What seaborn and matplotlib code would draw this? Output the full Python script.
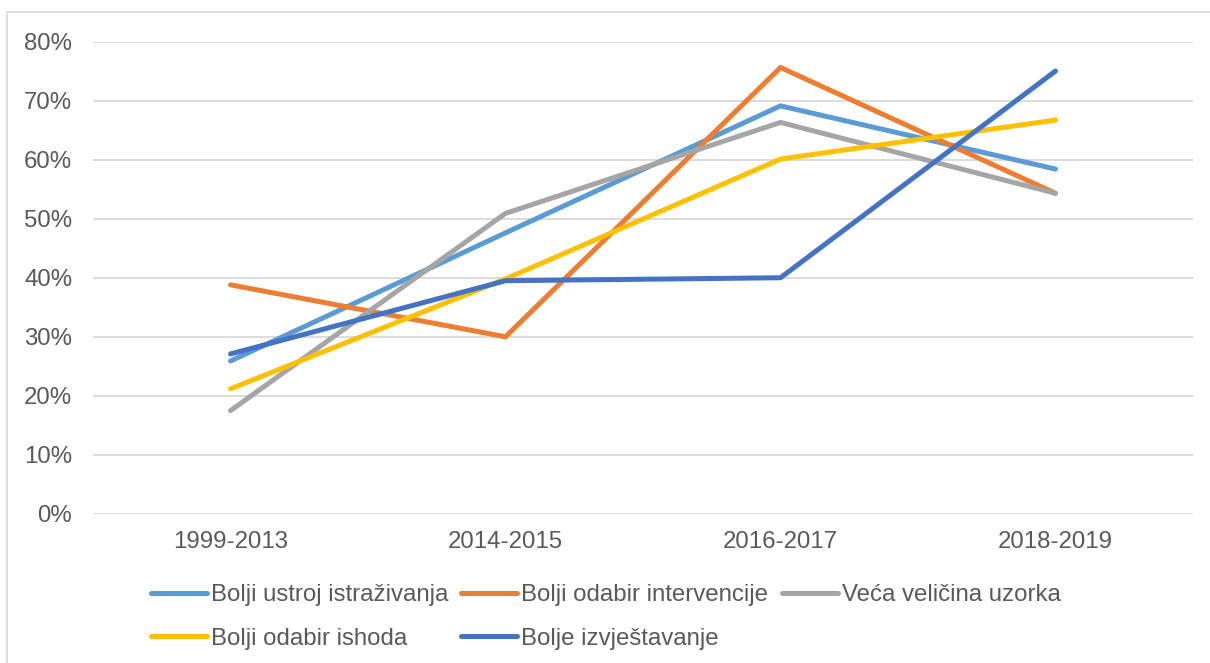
import numpy as np
import pandas as pd
import seaborn as sns
import matplotlib.pyplot as plt
from matplotlib.ticker import PercentFormatter

# data (percent)
periods = ['1999-2013', '2014-2015', '2016-2017', '2018-2019']
series_names = ['Bolji ustroj istraživanja', 'Bolji odabir intervencije',
                'Veća veličina uzorka', 'Bolji odabir ishoda', 'Bolje izvještavanje']
ustroj = [25.9, 47.6, 69.1, 58.4]
intervencija = [38.8, 30.0, 75.6, 54.3]
uzorak = [17.5, 50.9, 66.3, 54.3]
ishod = [21.2, 39.8, 60.1, 66.7]
izvjestavanje = [27.1, 39.5, 40.0, 75.0]
colors = ['#5B9BD5', '#ED7D31', '#A5A5A5', '#FFC000', '#4472C4']

rows = []
for name, vals in zip(series_names, [ustroj, intervencija, uzorak, ishod, izvjestavanje]):
    for p, v in zip(periods, vals):
        rows.append((p, name, v))
df = pd.DataFrame(rows, columns=['period', 'serija', 'udio'])

sns.set_theme(style='white')
plt.rcParams['font.family'] = ['Liberation Sans', 'DejaVu Sans']
txt = '#595959'
fs = 17.3

fig = plt.figure(figsize=(12.1, 6.63), dpi=100)
ax = fig.add_axes([93/1210, 1-514/663, 1100/1210, (514-41.5)/663])

sns.lineplot(data=df, x='period', y='udio', hue='serija', hue_order=series_names,
             palette=colors, sort=False, linewidth=3.6, ax=ax, legend=True)
for ln in ax.get_lines():
    ln.set_solid_capstyle('round')
    ln.set_solid_joinstyle('miter')

ax.set_xlim(-0.5, 3.5)
ax.set_ylim(0, 80)
ax.set_yticks(np.arange(0, 81, 10))
ax.yaxis.set_major_formatter(PercentFormatter(decimals=0))
ax.grid(axis='y', color='#D9D9D9', linewidth=1.3)
ax.set_axisbelow(True)
for s in ax.spines.values():
    s.set_visible(False)
ax.tick_params(axis='both', length=0, labelsize=fs, labelcolor=txt)
ax.tick_params(axis='y', pad=15)
ax.tick_params(axis='x', pad=12)
ax.set_xlabel('')
ax.set_ylabel('')

# legend filled row by row like the original (matplotlib fills columns)
handles, labels = ax.get_legend_handles_labels()
ax.get_legend().remove()
order = [0, 3, 1, 4, 2]
leg = fig.legend([handles[i] for i in order], [labels[i] for i in order],
                 loc='center', bbox_to_anchor=(0.5005, 1-617/663),
                 ncol=3, frameon=False, fontsize=fs, handlelength=2.33,
                 handletextpad=0.17, columnspacing=0.55, labelspacing=0.9,
                 borderpad=0, borderaxespad=0)
for t in leg.get_texts():
    t.set_color(txt)
for h in leg.legend_handles:
    h.set_linewidth(3.6)

# outer chart border (partially cut off in the original)
fig.patches.append(plt.Rectangle((7/1210, -0.1), 1.2, (663-12)/663 + 0.1,
                                 transform=fig.transFigure, fill=False,
                                 edgecolor='#D9D9D9', linewidth=1.2))

fig.savefig('out.png', dpi=100)
